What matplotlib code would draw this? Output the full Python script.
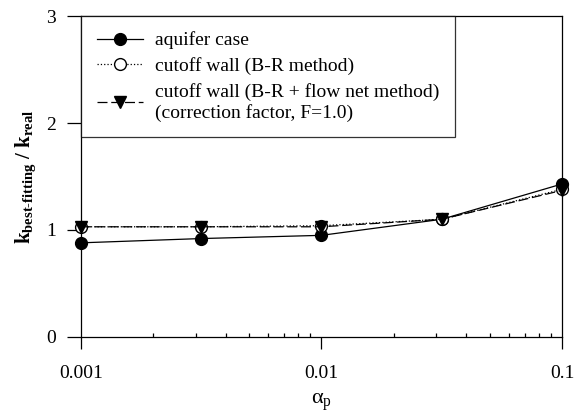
import matplotlib
matplotlib.use("Agg")
import matplotlib.pyplot as plt
from matplotlib.ticker import LogLocator, FixedLocator, NullFormatter

plt.rcParams['font.family'] = ['Liberation Serif', 'DejaVu Serif']
plt.rcParams['mathtext.fontset'] = 'custom'
plt.rcParams['mathtext.rm'] = 'Liberation Serif'
plt.rcParams['mathtext.it'] = 'Liberation Serif:italic'
plt.rcParams['mathtext.bf'] = 'Liberation Serif:bold'

alpha_p = [0.001, 0.00316, 0.01, 0.0316, 0.1]
aquifer = [0.88, 0.92, 0.95, 1.10, 1.43]
cutoff_br = [1.03, 1.03, 1.04, 1.10, 1.38]
cutoff_fn = [1.03, 1.03, 1.03, 1.10, 1.37]

labels = ['aquifer case', 'cutoff wall (B-R method)',
          'cutoff wall (B-R + flow net method)\n(correction factor, F=1.0)']
xticks = [0.001, 0.01, 0.1]
xticklabels = ['0.001', '0.01', '0.1']
yticks = [0, 1, 2, 3]

fig = plt.figure(figsize=(5.76, 4.15), dpi=100)
ax = fig.add_axes([0.1406, 0.188, 0.835, 0.7734])

ax.plot(alpha_p, aquifer, '-', color='black', lw=0.9, marker='o', ms=8.5,
        mfc='black', mec='black', label=labels[0], clip_on=False, zorder=3)
ax.plot(alpha_p, cutoff_br, ':', color='black', lw=0.9, marker='o', ms=8.5,
        mfc='white', mec='black', label=labels[1], clip_on=False, zorder=3)
ax.plot(alpha_p, cutoff_fn, color='black', lw=0.9, ls=(0, (8, 3)), marker='v', ms=8.5,
        mfc='black', mec='black', label=labels[2], clip_on=False, zorder=4)

ax.set_xscale('log')
ax.set_xlim(0.001, 0.1)
ax.set_ylim(0, 3)
ax.xaxis.set_major_locator(FixedLocator(xticks))
ax.set_xticklabels(xticklabels)
ax.xaxis.set_minor_locator(LogLocator(base=10, subs=range(2, 10)))
ax.xaxis.set_minor_formatter(NullFormatter())
ax.set_yticks(yticks)

ax.tick_params(axis='x', which='major', direction='out', length=8.6, width=0.9,
               labelsize=14, pad=11.5)
ax.tick_params(axis='x', which='minor', direction='in', length=3, width=0.9)
ax.tick_params(axis='y', which='major', direction='out', length=10, width=0.9,
               labelsize=14, pad=8)
for s in ax.spines.values():
    s.set_linewidth(0.9)

ax.set_xlabel(r'$\mathrm{\alpha}_\mathrm{p}$', fontsize=16, labelpad=7)
ylab = r'$\mathbf{k}_{\mathbf{best' + '\u2010' + r'fitting}}\mathbf{\ /\ k}_{\mathbf{real}}$'
ax.set_ylabel(ylab, fontsize=15, labelpad=6)

leg = ax.legend(loc='upper left', borderaxespad=0, fontsize=14, frameon=True,
                fancybox=False, edgecolor='black', handlelength=2.4,
                handletextpad=0.6, labelspacing=0.4, borderpad=0.8)
leg.get_frame().set_linewidth(0.9)

fig.savefig('out.png', dpi=100)
